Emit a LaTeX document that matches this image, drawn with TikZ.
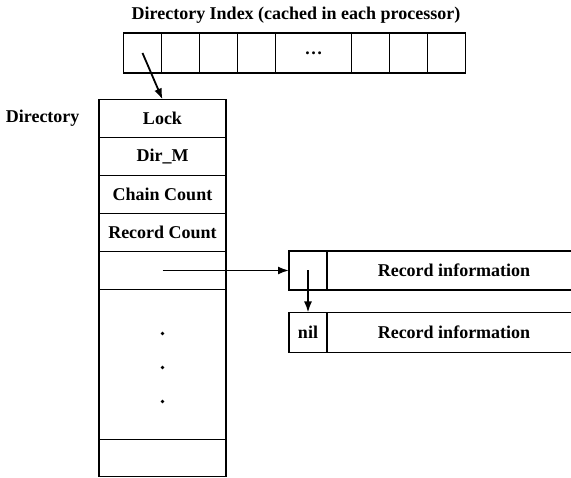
\documentclass[tikz,border=0pt]{standalone}
\usepackage{fontspec}
\setmainfont{Liberation Serif}
\usetikzlibrary{positioning, arrows.meta}
\tikzstyle{every node} = [font = \fontsize{18}{21}\selectfont\bfseries]
\tikzstyle{cell} = [draw, line width = 1.8pt, minimum width = 38pt, minimum height = 40pt, inner sep = 0pt, outer sep = 0pt]
\tikzstyle{field} = [draw, line width = 1.8pt, minimum width = 127pt, minimum height = 38pt, inner sep = 0pt, outer sep = 0pt]
\tikzstyle{link} = [line width = 1.8pt, -{Latex[length = 11pt, width = 8pt]}]

\begin{document}
\begin{tikzpicture}[x = 1pt, y = -1pt, node distance = 0pt]
        \useasboundingbox (0, 0) rectangle (571, 478);

        % directory index
        \node at (296, 15) (title) {Directory Index (cached in each processor)};
        \node [cell] at (142.5, 53) (c1) {};
        \node [cell, right = of c1] (c2) {};
        \node [cell, right = of c2] (c3) {};
        \node [cell, right = of c3] (c4) {};
        \node [cell, right = of c4, minimum width = 76pt] (cdots) {\dots};
        \node [cell, right = of cdots] (c6) {};
        \node [cell, right = of c6] (c7) {};
        \node [cell, right = of c7] (c8) {};

        % directory
        \node [field] at (162.5, 118.5) (lock) {Lock};
        \node [left = 16pt of lock] (dirlabel) {Directory};
        \node [field, below = of lock] (dirm) {Dir\_M};
        \node [field, below = of dirm] (chain) {Chain Count};
        \node [field, below = of chain] (rcount) {Record Count};
        \node [field, below = of rcount] (slot) {};
        \node [field, below = of slot, minimum height = 150pt] (rest) {};
        \node [field, below = of rest, minimum height = 37pt] (last) {};
        \foreach \d in {44, 78, 112}
            \fill ([yshift = -\d pt] rest.north) circle (1.8pt);

        % records
        \node [cell, minimum height = 39pt] at (308, 270.5) (ptr1) {};
        \node [cell, right = of ptr1, minimum height = 39pt, minimum width = 254pt] (info1) {Record information};
        \node [cell] at (308, 332.5) (ptr2) {nil};
        \node [cell, right = of ptr2, minimum width = 254pt] (info2) {Record information};

        \draw [link] (c1.center) -- (lock.north);
        \draw [link] (slot.center) -- (ptr1.west);
        \draw [link] (ptr1.center) -- (ptr2.north);
    \end{tikzpicture}
\end{document}
